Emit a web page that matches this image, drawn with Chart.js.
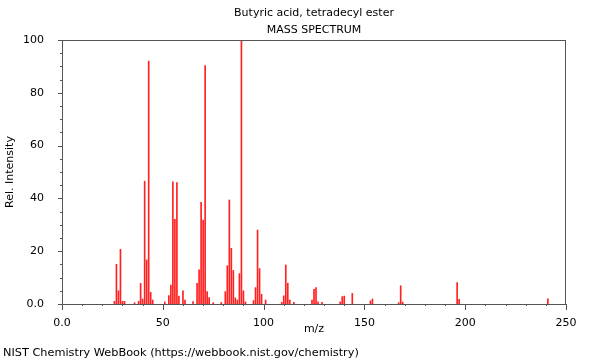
<!DOCTYPE html>
<html>
<head>
<meta charset="utf-8">
<script src="https://cdn.jsdelivr.net/npm/chart.js@4/dist/chart.umd.min.js"></script>
<style>
html,body{margin:0;padding:0;background:#fff;}
#wrap{width:600px;height:360px;}
</style>
</head>
<body>
<div id="wrap"><canvas id="c" width="600" height="360"></canvas></div>
<script>
const titleLines = ["Butyric acid, tetradecyl ester", "MASS SPECTRUM"];
const xTitle = "m/z";
const yTitle = "Rel. Intensity";
const footer = "NIST Chemistry WebBook (https://webbook.nist.gov/chemistry)";

const mz = [26,27,28,29,30,31,36,38,39,40,41,42,43,44,45,51,53,54,55,56,57,58,60,61,65,67,68,69,70,71,72,73,75,79,81,82,83,84,85,86,87,88,89,90,91,95,96,97,98,99,101,109,110,111,112,113,115,124,125,126,127,129,138,139,140,144,153,154,167,168,169,196,197,241];
const intensity = [1.0,15.0,5.0,20.7,1.0,1.0,0.5,1.0,7.8,1.9,46.5,16.7,92.0,4.4,1.5,0.8,3.2,7.2,46.3,32.1,46.0,3.0,5.0,1.5,0.9,7.8,12.9,38.5,31.8,90.3,4.7,2.4,0.5,0.6,4.7,14.5,39.4,21.1,12.7,2.3,1.5,11.5,100,5.0,0.8,1.3,6.2,28.0,13.4,3.7,1.5,0.6,3.1,14.8,7.9,1.5,0.6,1.5,5.6,6.2,0.8,0.6,0.8,2.8,3.0,4.0,1.2,1.9,0.5,6.9,0.7,8.1,1.8,2.0];

const xTicks = [0,50,100,150,200,250];
const xTickLabels = ["0.0","50","100","150","200","250"];
const yTicks = [0,20,40,60,80,100];
const yTickLabels = ["0.0","20","40","60","80","100"];

const FONT = '"DejaVu Sans", sans-serif';

const decor = {
  id: 'decor',
  afterDraw(chart) {
    const ctx = chart.ctx;
    const a = chart.chartArea;
    const xs = chart.scales.x, ys = chart.scales.y;
    ctx.save();
    ctx.strokeStyle = '#555';
    ctx.lineWidth = 1;
    ctx.strokeRect(a.left + 0.5, a.top + 0.5, a.right - a.left - 1, a.bottom - a.top);
    ctx.beginPath();
    for (let v = 0; v <= 250; v += 10) {
      const px = Math.round(xs.getPixelForValue(v)) + 0.5;
      const len = (v % 50 === 0) ? 6 : 2;
      ctx.moveTo(px, a.bottom);
      ctx.lineTo(px, a.bottom + len);
    }
    for (let v = 0; v <= 100; v += 5) {
      const py = Math.round(ys.getPixelForValue(v)) + 0.5;
      const len = (v % 20 === 0) ? 4 : 2;
      ctx.moveTo(a.left, py);
      ctx.lineTo(a.left - len, py);
    }
    ctx.stroke();
    ctx.fillStyle = '#000';
    ctx.font = '11px ' + FONT;
    ctx.textAlign = 'center';
    ctx.textBaseline = 'middle';
    const cx = (a.left + a.right) / 2;
    ctx.fillText(titleLines[0], cx, 13);
    ctx.fillText(titleLines[1], cx, 30);
    ctx.fillText(xTitle, cx, 329);
    ctx.save();
    ctx.translate(10, (a.top + a.bottom) / 2);
    ctx.rotate(-Math.PI / 2);
    ctx.fillText(yTitle, 0, 0);
    ctx.restore();
    ctx.textAlign = 'left';
    ctx.font = '11.3px ' + FONT;
    ctx.fillText(footer, 3, 353);
    ctx.restore();
  }
};

new Chart(document.getElementById('c'), {
  type: 'bar',
  data: {
    datasets: [{
      data: mz.map((m, i) => ({x: m, y: intensity[i]})),
      backgroundColor: '#ff2020',
      borderWidth: 0,
      barThickness: 1
    }]
  },
  options: {
    responsive: false,
    animation: false,
    layout: {padding: {top: 40, right: 34, left: 0, bottom: 0}},
    plugins: {legend: {display: false}, tooltip: {enabled: false}, title: {display: false}},
    scales: {
      x: {
        type: 'linear', min: 0, max: 250, offset: false,
        grid: {display: false}, border: {display: false},
        afterBuildTicks(s) { s.ticks = xTicks.map(v => ({value: v})); },
        afterFit(s) { s.height = 56; },
        ticks: {
          autoSkip: false, maxRotation: 0, padding: 5, color: '#000',
          font: {family: FONT, size: 11},
          callback(v) { const i = xTicks.indexOf(v); return i >= 0 ? xTickLabels[i] : ''; }
        }
      },
      y: {
        type: 'linear', min: 0, max: 100,
        grid: {display: false}, border: {display: false},
        afterBuildTicks(s) { s.ticks = yTicks.map(v => ({value: v})); },
        afterFit(s) { s.width = 62; },
        ticks: {
          autoSkip: false, padding: 10, color: '#000',
          font: {family: FONT, size: 11},
          callback(v) { const i = yTicks.indexOf(v); return i >= 0 ? yTickLabels[i] : ''; }
        }
      }
    }
  },
  plugins: [decor]
});
</script>
</body>
</html>
